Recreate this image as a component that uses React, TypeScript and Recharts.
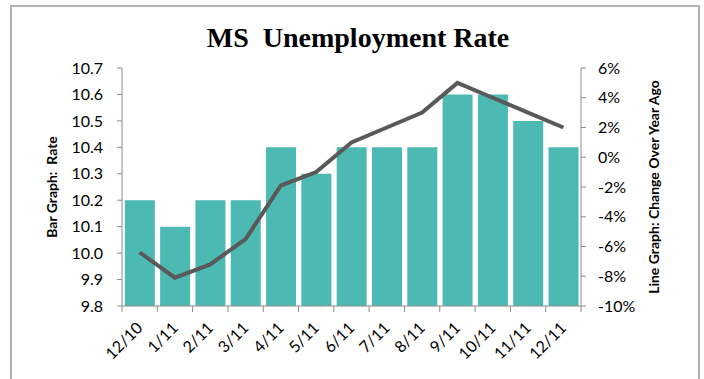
import React from "react";
import { ComposedChart, Bar, Line, XAxis, YAxis } from "recharts";

const months = ["12/10", "1/11", "2/11", "3/11", "4/11", "5/11", "6/11", "7/11", "8/11", "9/11", "10/11", "11/11", "12/11"];
const rate = [10.2, 10.1, 10.2, 10.2, 10.4, 10.3, 10.4, 10.4, 10.4, 10.6, 10.6, 10.5, 10.4];
const yoyChange = [-6.4, -8.1, -7.2, -5.5, -1.9, -1.0, 1.0, 2.0, 3.0, 5.0, 4.0, 3.0, 2.0];
const rateTicks = [9.8, 9.9, 10.0, 10.1, 10.2, 10.3, 10.4, 10.5, 10.6, 10.7];
const changeTicks = [-10, -8, -6, -4, -2, 0, 2, 4, 6];

const data = months.map((m, i) => ({ month: m, rate: rate[i], change: yoyChange[i] }));

const FONT = "Lato, 'Open Sans', sans-serif";
const AXIS_GRAY = "#8c8c8c";

// x ticks sit between categories, Excel style
const MonthTick = (props: any) => {
  const { x, y, payload, index } = props;
  const half = payload?.offset ?? 460 / 13 / 2;
  const last = index === months.length - 1;
  const ax = x + 4;
  const ay = y + 23;
  return (
    <g>
      <line x1={x - half} x2={x - half} y1={y} y2={y + 6} stroke={AXIS_GRAY} />
      {last && <line x1={x + half} x2={x + half} y1={y} y2={y + 6} stroke={AXIS_GRAY} />}
      <text
        x={ax}
        y={ay}
        textAnchor="end"
        transform={`rotate(-45 ${ax} ${ay})`}
        fontSize={16}
        fontFamily={FONT}
        fill="#000"
      >
        {payload.value}
      </text>
    </g>
  );
};

export default function App() {
  return (
    <div style={{ position: "absolute", left: 0, top: 0, width: 704, height: 379, overflow: "hidden", background: "#fff" }}>
      <div
        style={{
          position: "absolute",
          left: 10,
          top: 5,
          width: 686,
          height: 420,
          border: "2px solid #b4b4b4",
        }}
      />
      <div
        style={{
          position: "absolute",
          left: 0,
          width: 716,
          top: 22,
          textAlign: "center",
          fontFamily: "'Liberation Serif', serif",
          fontWeight: "bold",
          fontSize: 28,
          color: "#000",
        }}
      >
        MS&nbsp; Unemployment Rate
      </div>
      <div
        style={{
          position: "absolute",
          left: 51,
          top: 187,
          transform: "translate(-50%, -50%) rotate(-90deg)",
          whiteSpace: "pre",
          fontFamily: FONT,
          fontWeight: "bold",
          fontSize: 14,
        }}
      >
        {"Bar Graph:  Rate"}
      </div>
      <div
        style={{
          position: "absolute",
          left: 653,
          top: 187,
          transform: "translate(-50%, -50%) rotate(-90deg)",
          whiteSpace: "pre",
          fontFamily: FONT,
          fontWeight: "bold",
          fontSize: 14,
        }}
      >
        Line Graph: Change Over Year Ago
      </div>
      <div style={{ position: "absolute", left: 0, top: 0 }}>
        <ComposedChart
          width={704}
          height={379}
          data={data}
          margin={{ top: 68, right: 0, bottom: 0, left: 0 }}
          barCategoryGap="8%"
        >
          <XAxis
            dataKey="month"
            interval={0}
            height={73}
            stroke={AXIS_GRAY}
            tickSize={0}
            tickMargin={0}
            tick={<MonthTick />}
          />
          <YAxis
            yAxisId="rate"
            orientation="left"
            width={122}
            domain={[9.8, 10.7]}
            ticks={rateTicks}
            allowDataOverflow
            tickFormatter={(v: number) => v.toFixed(1)}
            stroke={AXIS_GRAY}
            tickSize={5}
            tickMargin={14}
            tick={{ fill: "#000", fontSize: 16, fontFamily: FONT }}
          />
          <YAxis
            yAxisId="change"
            orientation="right"
            width={123}
            domain={[-10, 6]}
            ticks={changeTicks}
            allowDataOverflow
            tickFormatter={(v: number) => `${v}%`}
            stroke={AXIS_GRAY}
            tickSize={5}
            tickMargin={12}
            tick={{ fill: "#000", fontSize: 16, fontFamily: FONT }}
          />
          <Bar yAxisId="rate" dataKey="rate" fill="#4cb9b3" isAnimationActive={false} />
          <Line
            yAxisId="change"
            dataKey="change"
            type="linear"
            stroke="#595959"
            strokeWidth={4}
            dot={false}
            activeDot={false}
            isAnimationActive={false}
          />
        </ComposedChart>
      </div>
    </div>
  );
}
